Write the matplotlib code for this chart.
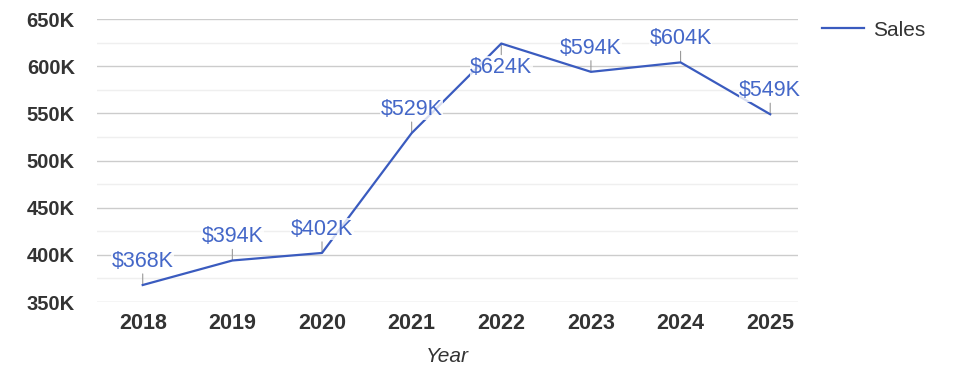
import matplotlib.pyplot as plt
from matplotlib.ticker import MultipleLocator, FuncFormatter

plt.rcParams["font.family"] = ["Liberation Sans", "DejaVu Sans"]

years = ["2018", "2019", "2020", "2021", "2022", "2023", "2024", "2025"]
sales = [368, 394, 402, 529, 624, 594, 604, 549]  # miles de USD

LINE_COLOR = "#3a5bbf"
LABEL_COLOR = "#4467c8"
TEXT_COLOR = "#333333"

fig = plt.figure(figsize=(9.75, 3.78), dpi=100)
ax = fig.add_axes([97 / 975, 1 - 302 / 378, (798 - 97) / 975, (302 - 19) / 378])

x = list(range(len(years)))
ax.plot(x, sales, color=LINE_COLOR, linewidth=1.6, label="Sales", zorder=3)

for xi, v in zip(x, sales):
    # si la etiqueta no cabe arriba, va debajo del punto
    signo = -1 if v > 615 else 1
    ax.annotate("", xy=(xi, v), xytext=(0, signo * 8), textcoords="offset points",
                arrowprops=dict(arrowstyle="-", color="#999999", lw=0.8,
                                shrinkA=0, shrinkB=0), zorder=2)
    ax.annotate(f"${v}K", xy=(xi, v), xytext=(0, signo * 17), textcoords="offset points",
                ha="center", va="center", fontsize=15.5, color=LABEL_COLOR,
                bbox=dict(facecolor="white", edgecolor="none", pad=0.3, alpha=0.8),
                zorder=4)

ax.set_xlim(-0.51, 7.31)
ax.set_ylim(350, 650)
ax.yaxis.set_major_locator(MultipleLocator(50))
ax.yaxis.set_minor_locator(MultipleLocator(25))
ax.yaxis.set_major_formatter(FuncFormatter(lambda v, p: f"{int(v)}K"))
ax.set_xticks(x)
ax.set_xticklabels(years)

ax.grid(axis="y", which="major", color="#cccccc", linewidth=1)
ax.grid(axis="y", which="minor", color="#efefef", linewidth=1)
ax.set_axisbelow(True)

for s in ax.spines.values():
    s.set_visible(False)
ax.tick_params(axis="both", which="both", length=0)
ax.tick_params(axis="y", pad=16)
ax.tick_params(axis="x", pad=8)
for lbl in ax.get_xticklabels():
    lbl.set_fontweight("bold")
    lbl.set_fontsize(15.5)
    lbl.set_color(TEXT_COLOR)
for lbl in ax.get_yticklabels():
    lbl.set_fontweight("bold")
    lbl.set_fontsize(14.5)
    lbl.set_color(TEXT_COLOR)

ax.set_xlabel("Year", fontsize=15, style="italic", color=TEXT_COLOR, labelpad=9)

fig.legend(loc="center left", bbox_to_anchor=(822 / 975, 1 - 30 / 378), frameon=False,
           fontsize=15, handlelength=2.0, handletextpad=0.45, borderpad=0,
           borderaxespad=0, labelcolor=TEXT_COLOR)

fig.savefig("out.png", dpi=100)
